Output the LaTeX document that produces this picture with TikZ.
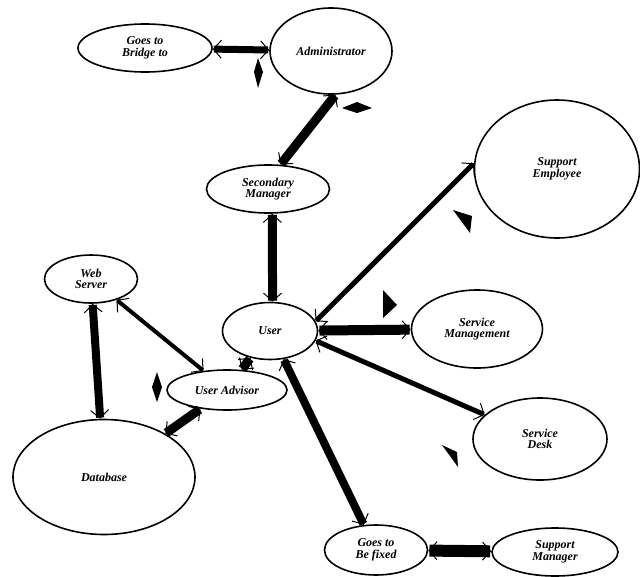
\documentclass[tikz,border=0pt]{standalone}
\usepackage{fontspec}
\setmainfont{Liberation Serif}
\usetikzlibrary{shapes.geometric,arrows.meta}
\begin{document}
\begin{tikzpicture}[x=1pt,y=-1pt,
  bub/.style={draw,ellipse,line width=1.6pt,inner sep=0pt,align=center,
    font=\fontsize{12}{11.5}\selectfont\bfseries\itshape},
  link/.style={line width=#1,{Straight Barb[length=8pt,width=18pt,line width=1pt]}-{Straight Barb[length=8pt,width=18pt,line width=1pt]}},
  link/.default=8pt,
  marker/.style={fill=black}]
\useasboundingbox (0,0) rectangle (640,576);
\node[bub,minimum width=134pt,minimum height=48pt] (A) at (145,48) {Goes to\\Bridge to};
\node[bub,minimum width=122pt,minimum height=86pt] (B) at (331,51) {Administrator};
\node[bub,minimum width=123pt,minimum height=48pt] (C) at (268,189) {Secondary\\Manager};
\node[bub,minimum width=165pt,minimum height=138pt] (D) at (557,169) {Support\\Employee};
\node[bub,minimum width=93pt,minimum height=48pt] (E) at (91,279) {Web\\Server};
\node[bub,minimum width=95pt,minimum height=57pt] (F) at (270,331) {User};
\node[bub,minimum width=120pt,minimum height=40pt] (G) at (227,390) {User Advisor};
\node[bub,minimum width=131pt,minimum height=78pt] (H) at (477,329) {Service\\Management};
\node[bub,minimum width=134pt,minimum height=82pt] (I) at (540,439) {Service\\Desk};
\node[bub,minimum width=182pt,minimum height=115pt] (J) at (104,477) {Database};
\node[bub,minimum width=103pt,minimum height=50pt] (K) at (376,550) {Goes to\\Be fixed};
\node[bub,minimum width=126pt,minimum height=48pt] (L) at (555,552) {Support\\Manager};

\draw[link=7pt] (A) -- (B);
\draw[link=9pt] (B.-84) -- (C.63);
\draw[link=9pt] (C.-80) -- (F.85);
\draw[link=5pt] (F.12) -- (D.176);
\draw[link=10pt] (F) -- (H);
\draw[link=5pt] (F.-12) -- (I);
\draw[link=8pt] (F) -- (K);
\draw[link=12pt] (K) -- (L);
\draw[link=8pt] (E) -- (J);
\draw[link=4pt] (E) -- (G);
\draw[link=9pt] (G) -- (F);
\draw[link=9pt] (G) -- (J);

\fill[marker] (258,58) -- (263,72) -- (258,88) -- (254,72) -- cycle;
\fill[marker] (342,108) -- (357,102) -- (372,108) -- (357,113) -- cycle;
\fill[marker] (453,210) -- (472,216) -- (470,233) -- cycle;
\fill[marker] (383,290) -- (397,305) -- (383,318) -- cycle;
\fill[marker] (442,445) -- (457,452) -- (458,467) -- cycle;
\fill[marker] (157,372) -- (162,387) -- (157,402) -- (152,387) -- cycle;
\end{tikzpicture}
\end{document}
